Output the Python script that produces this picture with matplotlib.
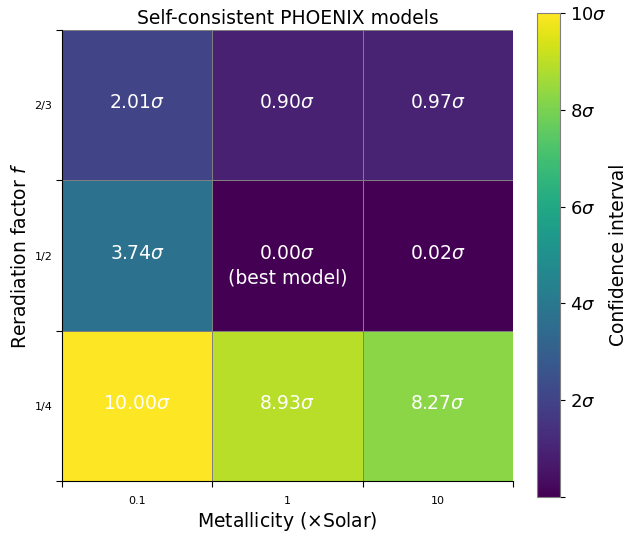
import numpy as np
import matplotlib
matplotlib.use("Agg")
import matplotlib.pyplot as plt

metallicity = ["0.1", "1", "10"]
reradiation = ["1/4", "1/2", "2/3"]
# rows follow reradiation (bottom to top), columns follow metallicity
sigma = np.array([
    [10.00, 8.93, 8.27],
    [3.74, 0.00, 0.02],
    [2.01, 0.90, 0.97],
])
best_label = "(best model)"

fig = plt.figure(figsize=(6.29, 5.35), dpi=100)
ax = fig.add_axes([62 / 629, 1 - 481 / 535, 451 / 629, 451 / 535])
cax = fig.add_axes([537 / 629, 1 - 497 / 535, 23 / 629, 484 / 535])

mesh = ax.pcolormesh(np.arange(4), np.arange(4), sigma, cmap="viridis",
                     vmin=0, vmax=10, edgecolors="gray", linewidth=0.6)
ax.set_xlim(0, 3)
ax.set_ylim(0, 3)

best = np.unravel_index(np.argmin(sigma), sigma.shape)
for i in range(3):
    for j in range(3):
        txt = f"{sigma[i, j]:.2f}$\\sigma$"
        if (i, j) == best:
            ax.text(j + 0.5, i + 0.5 + 0.01, txt, ha="center", va="center",
                    color="white", fontsize=13.5)
            ax.text(j + 0.5, i + 0.5 - 0.15, best_label, ha="center",
                    va="center", color="white", fontsize=13.5)
        else:
            ax.text(j + 0.5, i + 0.5 + 0.015, txt, ha="center", va="center",
                    color="white", fontsize=13.5)

# edge ticks without labels, labels centred on cells
ax.set_xticks(np.arange(4))
ax.set_yticks(np.arange(4))
ax.set_xticklabels([])
ax.set_yticklabels([])
ax.set_xticks(np.arange(3) + 0.5, minor=True)
ax.set_yticks(np.arange(3) + 0.5, minor=True)
ax.set_xticklabels(metallicity, minor=True, fontsize=8)
ax.set_yticklabels(reradiation, minor=True, fontsize=8)
ax.tick_params(axis="x", which="minor", length=0, pad=11)
ax.tick_params(axis="y", which="minor", length=0, pad=7)
ax.tick_params(which="major", length=4)
for s in ("top", "right"):
    ax.spines[s].set_visible(False)

ax.set_xlabel("Metallicity ($\\times$Solar)", fontsize=13.5, labelpad=3)
ax.set_ylabel("Reradiation factor $f$", fontsize=13.5, labelpad=3)
ax.set_title("Self-consistent PHOENIX models", fontsize=13.5, pad=4)

cb = fig.colorbar(mesh, cax=cax)
cb.set_ticks([0, 2, 4, 6, 8, 10])
cb.set_ticklabels(["", "2$\\sigma$", "4$\\sigma$", "6$\\sigma$", "8$\\sigma$", "10$\\sigma$"])
cb.ax.tick_params(labelsize=13)
cb.outline.set_edgecolor("gray")
cb.set_label("Confidence interval", fontsize=13.5, labelpad=2)

fig.savefig("out.png", dpi=100)
